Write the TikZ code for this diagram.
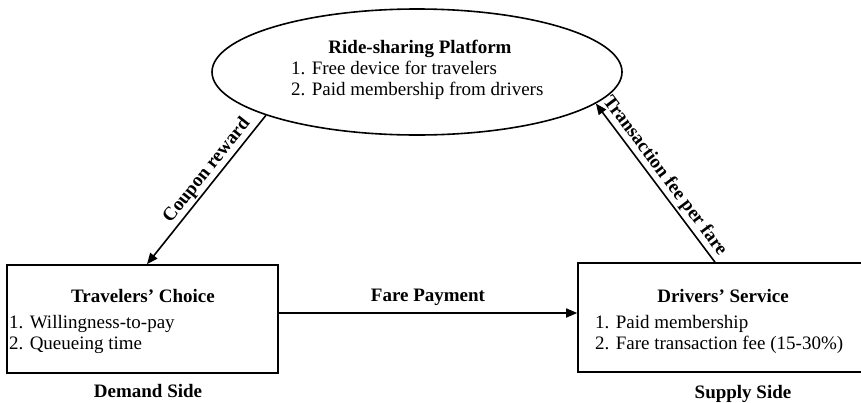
\documentclass[tikz,border=0pt]{standalone}
\usepackage{fontspec}
\setmainfont{Liberation Serif}
\usetikzlibrary{shapes.geometric,arrows.meta,calc}
\tikzset{
  frame/.style={draw, line width=1.6pt, inner sep=0pt},
  conn/.style={line width=1.6pt, -{Triangle[length=11pt,width=9pt]}},
  txt/.style={font=\fontsize{19}{21}\selectfont, inner sep=0pt},
  ttl/.style={font=\fontsize{19}{21}\selectfont\bfseries, inner sep=0pt},
  lbl/.style={font=\fontsize{19}{21}\selectfont\bfseries, inner sep=2pt},
}
\begin{document}
\begin{tikzpicture}[x=1pt,y=-1pt]
\clip (0,0) rectangle (861,402);
\fill[white] (0,0) rectangle (861,402);
% platform
\node[frame, ellipse, minimum width=410pt, minimum height=126pt] (plat) at (417,72) {};
\node[ttl, anchor=base] (platT) at (420,53) {Ride-sharing Platform};
\node[txt, anchor=base west] (platA) at (291,74) {1. Free device for travelers};
\node[txt, anchor=base west] (platB) at (291,95) {2. Paid membership from drivers};
% travelers
\node[frame, rectangle, minimum width=271pt, minimum height=108pt] (trav) at (142.5,319) {};
\node[ttl, anchor=base] (travT) at (143,302) {Travelers’ Choice};
\node[txt, anchor=base west] (travA) at (9,328) {1. Willingness-to-pay};
\node[txt, anchor=base west] (travB) at (9,349) {2. Queueing time};
\node[ttl, anchor=base] (dem) at (148,397) {Demand Side};
% drivers
\node[frame, rectangle, minimum width=322pt, minimum height=109pt] (drv) at (739,317.5) {};
\node[ttl, anchor=base] (drvT) at (723,302) {Drivers’ Service};
\node[txt, anchor=base west] (drvA) at (595,328) {1. Paid membership};
\node[txt, anchor=base west] (drvB) at (595,349) {2. Fare transaction fee (15-30\%)};
\node[ttl, anchor=base] (sup) at (743,398) {Supply Side};
% connectors
\draw[conn] (plat.196) -- ([xshift=4.5pt]trav.north)
  node[lbl, sloped, above, pos=0.42] (cpn) {Coupon reward};
\draw[conn] ([xshift=-24pt]drv.north) -- (plat.-10)
  node[lbl, sloped, above, pos=0.5] (fee) {Transaction fee per fare};
\coordinate (fa) at ([yshift=6pt]trav.east);
\draw[conn] (fa) -- (fa -| drv.west)
  node[lbl, above, midway, yshift=5pt] (fare) {Fare Payment};
\end{tikzpicture}
\end{document}
